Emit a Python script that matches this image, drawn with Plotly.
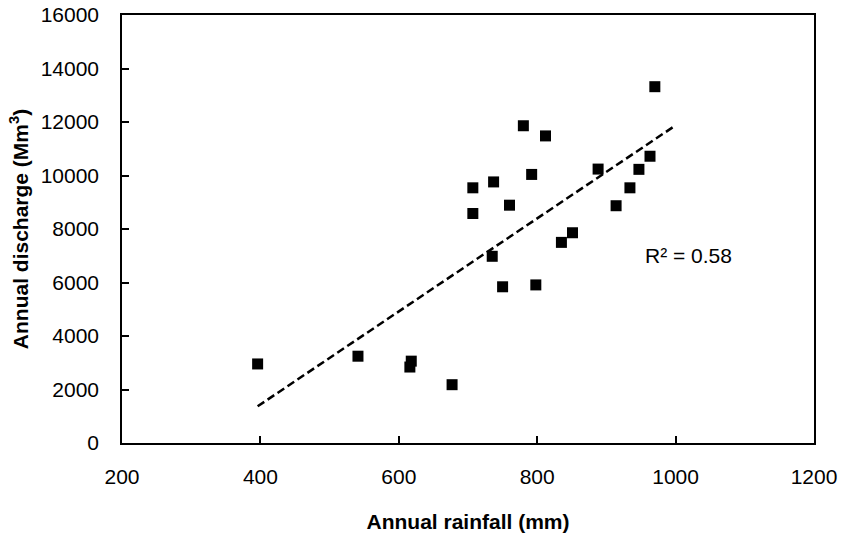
import numpy as np
import plotly.graph_objects as go

rainfall = [396, 541, 616, 618, 677, 707, 707, 735, 737, 750, 760, 780, 792, 798,
            812, 835, 851, 888, 914, 934, 947, 963, 970]
discharge = [2955, 3245, 2840, 3060, 2180, 8580, 9540, 6980, 9760, 5840, 8890, 11860,
             10040, 5910, 11480, 7500, 7860, 10240, 8870, 9540, 10230, 10720, 13320]
x_ticks = [200, 400, 600, 800, 1000, 1200]
y_ticks = [0, 2000, 4000, 6000, 8000, 10000, 12000, 14000, 16000]
r2_label = "R² = 0.58"
trend_end = 1000

slope, intercept = np.polyfit(rainfall, discharge, 1)
tx = [min(rainfall), trend_end]
ty = [slope * v + intercept for v in tx]

fig = go.Figure()
fig.add_trace(go.Scatter(x=tx, y=ty, mode="lines",
                         line=dict(color="black", width=2.5, dash="8px,4px"),
                         hoverinfo="skip", showlegend=False))
fig.add_trace(go.Scatter(x=rainfall, y=discharge, mode="markers",
                         marker=dict(symbol="square", size=11, color="black",
                                     line=dict(width=0)),
                         showlegend=False))
fig.add_annotation(x=1018, y=7020, text=r2_label, showarrow=False,
                   font=dict(family="Liberation Sans, Arial", size=21, color="black"))

axis_font = dict(family="Liberation Sans, Arial", size=21, color="black")
fig.update_xaxes(range=[200, 1200], tickvals=x_ticks, tickformat="d", ticks="inside", ticklen=7,
                 tickwidth=1.5, tickcolor="black", showline=True, linecolor="black",
                 linewidth=1.5, mirror=True, showgrid=False, zeroline=False,
                 tickfont=axis_font, ticklabelstandoff=14, automargin=False,
                 ticklabeloverflow="allow",
                 title=dict(text="<b>Annual rainfall (mm)</b>", font=axis_font, standoff=27))
fig.update_yaxes(range=[0, 16000], tickvals=y_ticks, tickformat="d", ticks="inside", ticklen=7,
                 tickwidth=1.5, tickcolor="black", showline=True, linecolor="black",
                 linewidth=1.5, mirror=True, showgrid=False, zeroline=False,
                 tickfont=axis_font, ticklabelstandoff=17, automargin=False,
                 ticklabeloverflow="allow",
                 title=dict(text="<b>Annual discharge (Mm<sup>3</sup>)</b>", font=axis_font, standoff=6))
fig.update_layout(width=841, height=540, plot_bgcolor="white", paper_bgcolor="white",
                  margin=dict(l=122, r=27, t=15, b=97),
                  font=axis_font)
fig.write_html("out.html", config={"displayModeBar": False},
               post_script="document.body.style.margin='0';document.body.style.overflow='hidden';")
